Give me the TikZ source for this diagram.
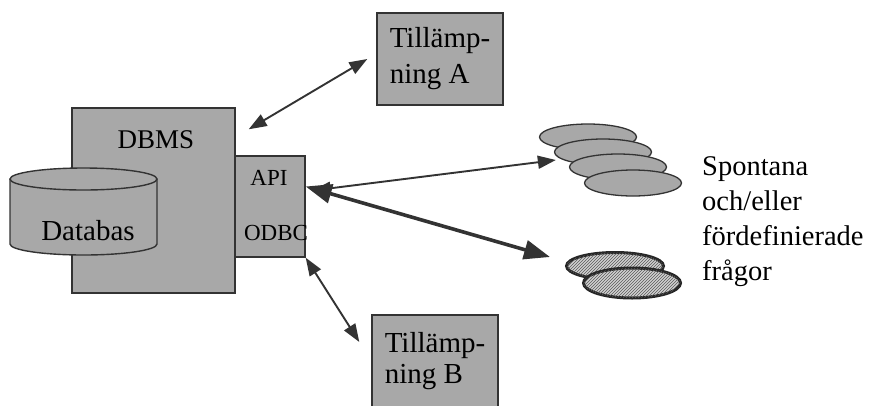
\documentclass[tikz,border=0pt]{standalone}
\usepackage{fontspec}
\setmainfont{Liberation Serif}
\usetikzlibrary{arrows.meta,shapes.geometric,patterns}
\definecolor{boxgray}{gray}{0.66}
\definecolor{edge}{gray}{0.2}
\tikzset{gbox/.style={draw=edge, line width=1.4pt, fill=boxgray, inner sep=0pt, align=left, font=\fontsize{29}{36}\selectfont}}
\tikzset{arr/.style={draw=edge, line width=1.9pt, {Triangle[length=18pt,width=13pt]}-{Triangle[length=18pt,width=13pt]}}}
\tikzset{fatarr/.style={arr, line width=3.6pt, {Triangle[length=26pt,width=19pt]}-{Triangle[length=26pt,width=19pt]}}}
\tikzset{query/.style={ellipse, draw=edge, line width=1.3pt, fill=boxgray, minimum width=97pt, minimum height=26pt, inner sep=0pt}}
\tikzset{stored/.style={query, line width=3pt, draw=black!85, fill=black!18, postaction={pattern=north east lines, pattern color=black!65}}}
\begin{document}
\begin{tikzpicture}[x=1pt,y=-1pt]
		\useasboundingbox (0,0) rectangle (872,405);
		
		% DBMS with its API block
		\node[gbox, minimum width=163pt, minimum height=185pt] (dbms) at (153.5,200.5){};
		\node[gbox, minimum width=70pt, minimum height=101pt] (api) at (270,206.5){};
		\node[font=\fontsize{27}{30}\selectfont] (dbmstxt) at (156,140){DBMS};
		\node[font=\fontsize{23}{26}\selectfont] (apitxt) at (269,178){API};
		\node[font=\fontsize{23}{26}\selectfont] (odbctxt) at (276,233){ODBC};
		
		% database cylinder
		\filldraw[draw=edge, line width=1.4pt, fill=boxgray] (10,179) -- (10,244) arc (180:0:73.5 and 11) -- (157,179);
		\draw[edge, line width=1.4pt, fill=boxgray] (83.5,179) ellipse (73.5 and 11);
		\node[font=\fontsize{29}{30}\selectfont] (db) at (88,231){Databas};
		
		% applications
		\node[gbox, minimum width=126pt, minimum height=92pt] (appA) at (440,59){Tillämp-\\ning A};
		\node[gbox, minimum width=126pt, minimum height=92pt, font=\fontsize{29}{31}\selectfont] (appB) at (435,361){Tillämp-\\ning B};
		
		% queries
		\foreach \i/\x/\y in {1/588/137, 2/603/152, 3/618/167, 4/633/183}
			\node[query] (q\i) at (\x,\y){};
		\node[stored, minimum height=27pt] (h1) at (615,266){};
		\node[stored, minimum height=30pt] (h2) at (632,283){};
		\node[anchor=north west, align=left, inner sep=0pt, font=\fontsize{28.5}{35}\selectfont] (qtxt) at (702,156){Spontana\\och/eller\\fördefinierade\\frågor};
		
		\draw[arr] ([shift={(13,22)}]dbms.north east) -- ([xshift=-9]appA.west);
		\draw[arr] ([shift={(7,-16)}]api.east) -- ([shift={(2,8)}]q2.west);
		\draw[fatarr] ([yshift=20]api.east) -- ([shift={(-15,-9)}]h1.west);
		\draw[arr] (api.south east) -- ([shift={(-12,-19)}]appB.west);
	\end{tikzpicture}
\end{document}
